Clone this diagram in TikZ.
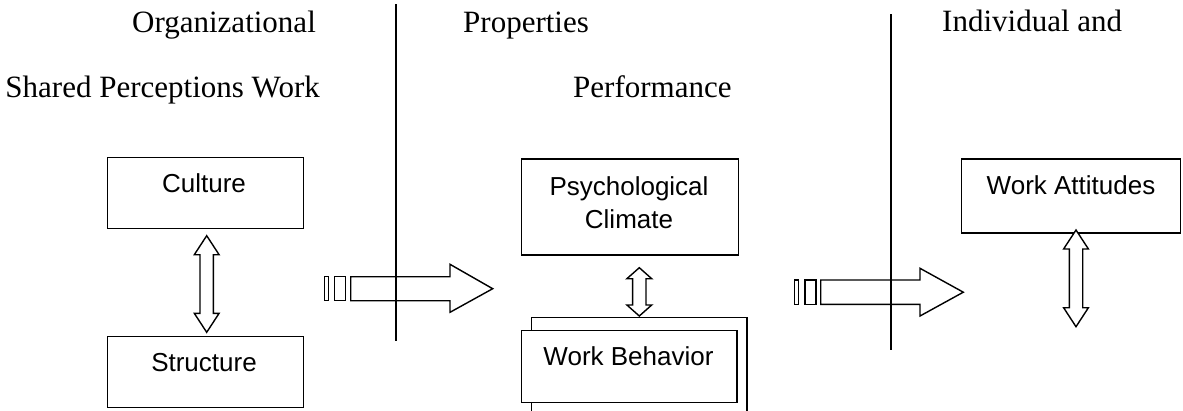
\documentclass[tikz,border=0pt]{standalone}
\usepackage{fontspec}
\setmainfont{Liberation Serif}
\newfontfamily\arialfont{Liberation Sans}
\usetikzlibrary{calc}
\newcommand{\vdarr}[3]{%
  \draw[blockarrow] (#1) -- ++(12.4,#3) -- ++(-5.7,0) -- ($(#2)+(6.7,-#3)$) -- ++(5.7,0) -- (#2)
   -- ++(-12.4,-#3) -- ++(5.7,0) -- ($(#1)+(-6.7,#3)$) -- ++(-5.7,0) -- cycle;}
\begin{document}
\begin{tikzpicture}[x=1pt,y=-1pt,
  box/.style={draw, line width=1.4pt, fill=white, anchor=north west, inner sep=0pt},
  head/.style={font=\fontsize{31}{36}\selectfont, anchor=base west, inner sep=0pt},
  boxtext/.style={font=\arialfont\fontsize{26}{30}\selectfont, anchor=base, inner sep=0pt},
  blockarrow/.style={draw, line width=1.4pt, fill=white, line join=miter},
  divider/.style={draw, line width=1.4pt}]
\useasboundingbox (0,0) rectangle (1183,410);
\clip (0,0) rectangle (1183,410);

% headings
\node[head] (h1) at (132,32) {Organizational};
\node[head] (h2) at (463,32) {Properties};
\node[head] (h3) at (942,31) {Individual and};
\node[head, anchor=base east] (h4) at (320,97) {Shared Perceptions Work};
\node[head] (h5) at (573,97) {Performance};

% boxes
\node[box, minimum width=196pt, minimum height=71pt] (culture) at (107,157) {};
\node[box, minimum width=196pt, minimum height=71pt] (structure) at (107,336) {};
\node[box, minimum width=217pt, minimum height=96pt] (psych) at (521,158.3) {};
\node[box, minimum width=215.5pt, minimum height=110pt] (behback) at (530.7,316.7) {};
\node[box, minimum width=215.6pt, minimum height=71.7pt] (behavior) at (520.7,330) {};
\node[box, minimum width=219pt, minimum height=74pt] (attitudes) at (961,158.3) {};

\node[boxtext] (cultureT) at (204,192.3) {Culture};
\node[boxtext] (structureT) at (204,371.7) {Structure};
\node[boxtext] (psychT1) at (629,195) {Psychological};
\node[boxtext] (psychT2) at (629,228.3) {Climate};
\node[boxtext] (behaviorT) at (628.5,365) {Work Behavior};
\node[boxtext] (attitudesT) at (1071,194.3) {Work Attitudes};

% double arrows
\coordinate (a1t) at (206.7,235.7); \coordinate (a1b) at (206.7,332.3);
\coordinate (a2t) at (639.3,267.7); \coordinate (a2b) at (639.3,316);
\coordinate (a3t) at (1076,230);    \coordinate (a3b) at (1076,326.7);
\vdarr{a1t}{a1b}{19}
\vdarr{a2t}{a2b}{11}
\vdarr{a3t}{a3b}{19}

% striped block arrows
\draw[blockarrow] (324.3,276.7) rectangle (328.3,300.7);
\draw[blockarrow] (334.3,276.7) rectangle (345.7,300.7);
\draw[blockarrow] (350.7,276.7) -- (450,276.7) -- (450,264.3) -- (492.7,288.7)
  -- (450,312.3) -- (450,300.7) -- (350.7,300.7) -- cycle;
\draw[blockarrow] (794.3,280) rectangle (798.3,304.3);
\draw[blockarrow] (805,280) rectangle (816,304.3);
\draw[blockarrow] (820.7,280) -- (920,280) -- (920,268.3) -- (963.3,292.2)
  -- (920,316) -- (920,304.3) -- (820.7,304.3) -- cycle;

% dividers
\coordinate (d1t) at (396,4);  \coordinate (d1b) at (396,340.7);
\coordinate (d2t) at (891,14); \coordinate (d2b) at (891,350);
\draw[divider] (d1t) -- (d1b);
\draw[divider] (d2t) -- (d2b);
\end{tikzpicture}
\end{document}
